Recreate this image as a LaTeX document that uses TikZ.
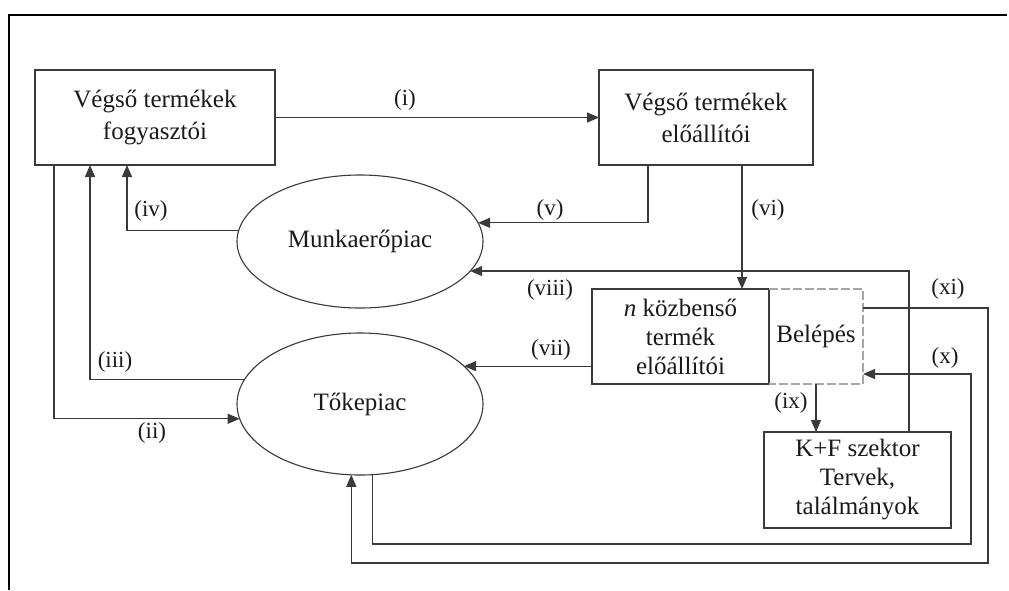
\documentclass[tikz,border=0pt]{standalone}
\usepackage{fontspec}
\setmainfont{Liberation Serif}
\usetikzlibrary{arrows.meta,shapes.geometric}

\definecolor{linegray}{HTML}{3A3A3A}
\definecolor{inkdark}{HTML}{1A1A1A}

\tikzset{
  boxnode/.style={draw=linegray, line width=1.2pt, rectangle, inner sep=0pt,
    outer sep=0pt, align=center, text=inkdark,
    font=\fontsize{25}{32}\selectfont},
  ovalnode/.style={draw=linegray, line width=1.1pt, ellipse, inner sep=0pt,
    outer sep=0pt, text=inkdark, font=\fontsize{25}{30}\selectfont},
  conn/.style={draw=linegray, line width=1.2pt},
  arr/.style={conn, -{Triangle[length=12pt,width=10pt]}},
  lbl/.style={text=inkdark, inner sep=0pt, font=\fontsize{23}{28}\selectfont}
}

\begin{document}
\begin{tikzpicture}[x=1pt,y=-1pt]
  \useasboundingbox (0,0) rectangle (1009,590);
  \fill[white] (0,0) rectangle (1009,590);

  % outer frame (top and left edges)
  \draw[black, line width=2.6pt] (9,590) -- (9,15) -- (1007,15);

  % boxes
  \node[boxnode, minimum width=240pt, minimum height=95pt] (A) at (155,117.5)
    {Végső termékek\\fogyasztói};
  \node[boxnode, minimum width=214pt, minimum height=95pt] (B) at (706,117.5)
    {Végső termékek\\előállítói};
  \node[ovalnode, minimum width=246pt, minimum height=133pt] (M) at (360,241.5)
    {Munkaerőpiac};
  \node[ovalnode, minimum width=246pt, minimum height=142pt] (T) at (360,404)
    {Tőkepiac};
  \node[boxnode, minimum width=177pt, minimum height=95pt,
    font=\fontsize{25}{29}\selectfont] (N) at (680.5,336.5)
    {\textit{n} közbenső\\termék\\előállítói};
  \node[rectangle, inner sep=0pt, outer sep=0pt, minimum width=94pt,
    minimum height=95pt, text=inkdark, font=\fontsize{25}{30}\selectfont]
    (Bel) at (816,336.5) {Belépés};
  \draw[gray!70, line width=1.1pt, dash pattern=on 9pt off 3pt]
    (Bel.north west) -- (Bel.north east) -- (Bel.south east) -- (Bel.south west);
  \node[boxnode, minimum width=187pt, minimum height=96pt,
    font=\fontsize{25}{29}\selectfont] (K) at (857.5,480)
    {K+F szektor\\Tervek,\\találmányok};

  % bend points of the long return lines
  \coordinate (xc) at (971,544);
  \coordinate (xic) at (988,563);

  % connectors
  \draw[arr] (A) -- (B);
  \draw[arr] (M.175.5) -| ([xshift=92pt]A.south west);
  \draw[arr] (T.168.8) -| ([xshift=55pt]A.south west);
  \draw[arr] ([xshift=19pt]A.south west) |- (T.187.1);
  \draw[arr] ([xshift=49pt]B.south west) |- (M.9.4);
  \draw[arr] ([xshift=143pt]B.south west) coordinate (vi0) -- (vi0 |- N.north);
  \draw[arr] (T.20.8 -| N.west) -- (T.20.8);
  \draw[arr] ([xshift=145pt]K.north west) |- (M.-15.6);
  \draw[arr] (Bel.south) -- (Bel.south |- K.north);
  \draw[arr] (T.-80.4) |- (xc) |- ([yshift=-37.5pt]Bel.east);
  \draw[arr] ([yshift=28.5pt]Bel.east) -| (xic) -| (T.263.6);

  % connector labels
  \node[lbl] (li) at (405,100) {(i)};
  \node[lbl] (lii) at (152,433) {(ii)};
  \node[lbl] (liii) at (115,362) {(iii)};
  \node[lbl] (liv) at (151,211) {(iv)};
  \node[lbl] (lv) at (550,210) {(v)};
  \node[lbl] (lvi) at (768,210) {(vi)};
  \node[lbl] (lvii) at (551,350) {(vii)};
  \node[lbl] (lviii) at (550,290) {(viii)};
  \node[lbl] (lix) at (791,403) {(ix)};
  \node[lbl] (lx) at (945,358) {(x)};
  \node[lbl] (lxi) at (948,289) {(xi)};
\end{tikzpicture}
\end{document}
